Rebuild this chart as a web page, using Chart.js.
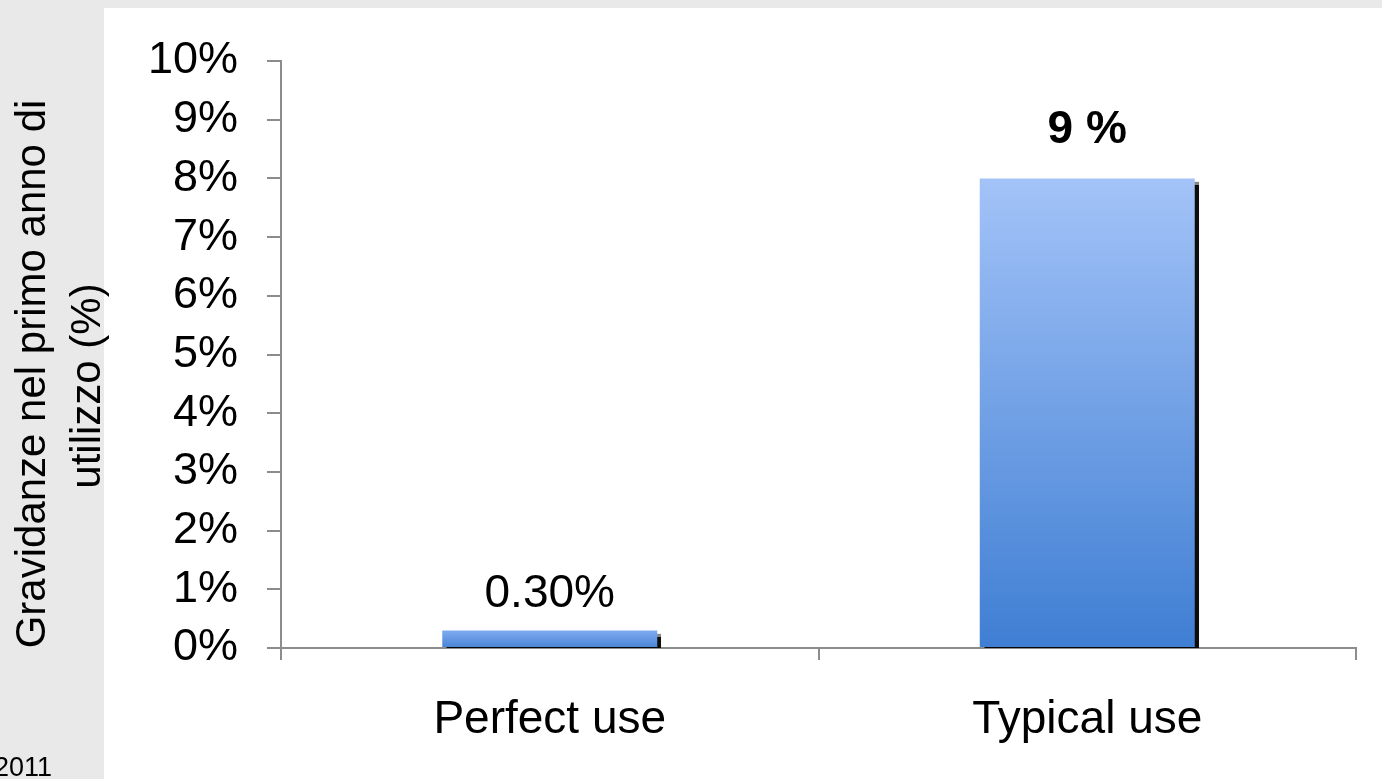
<!DOCTYPE html>
<html>
<head>
<meta charset="utf-8">
<script src="https://cdn.jsdelivr.net/npm/chart.js@4.4.0/dist/chart.umd.min.js"></script>
<style>
  html, body { margin: 0; padding: 0; background: #e9e9e9; overflow: hidden; }
  #wrap { position: relative; width: 1382px; height: 779px; }
  #source { position: absolute; left: -6px; top: 752px; font: 27px "Liberation Sans", Arial, sans-serif; line-height: 30px; color: #000; }
</style>
</head>
<body>
<div id="wrap">
  <canvas id="usageChart" width="1382" height="779"></canvas>
  <div id="source">2011</div>
</div>
<script>
// Pregnancy rate in the first year of use
const categories = ["Perfect use", "Typical use"];
const pregnancyRates = [0.3, 8];
const valueLabels = ["0.30%", "9 %"];
const yTicks = [0, 1, 2, 3, 4, 5, 6, 7, 8, 9, 10];
const yTitle = ["Gravidanze nel primo anno di", "utilizzo (%)"];

const FONT = '"Liberation Sans", Arial, sans-serif';
const AXIS_GREY = "#8c8c8c";

// Vertical gradient per bar, from its top down to the baseline
function barGradient(context) {
  const chart = context.chart;
  const { ctx, chartArea, scales } = chart;
  if (!chartArea || !scales.y) return "#5b8fdd";
  const top = scales.y.getPixelForValue(context.raw);
  const bottom = scales.y.getPixelForValue(0);
  const g = ctx.createLinearGradient(0, top, 0, bottom);
  if (context.raw > 2) {
    g.addColorStop(0, "#a3c3f8");
    g.addColorStop(1, "#3f7ed3");
  } else {
    g.addColorStop(0, "#7fabef");
    g.addColorStop(1, "#4883d6");
  }
  return g;
}

// Grey page with the white slide panel
const panelBackground = {
  id: "panelBackground",
  beforeDraw(chart) {
    const ctx = chart.ctx;
    ctx.save();
    ctx.fillStyle = "#e9e9e9";
    ctx.fillRect(0, 0, chart.width, chart.height);
    ctx.fillStyle = "#ffffff";
    ctx.fillRect(104, 8, chart.width - 104, chart.height - 8);
    ctx.restore();
  }
};

// Dark shadow on the right side of the bars
const barShadow = {
  id: "barShadow",
  beforeDatasetDraw(chart) {
    const ctx = chart.ctx;
    ctx.save();
    ctx.shadowColor = "rgba(0,0,0,0.95)";
    ctx.shadowOffsetX = 4;
    ctx.shadowOffsetY = 4;
    ctx.shadowBlur = 1;
  },
  afterDatasetDraw(chart) {
    chart.ctx.restore();
  }
};

// Rotated two-line y title
const sideTitle = {
  id: "sideTitle",
  afterDraw(chart) {
    const ctx = chart.ctx;
    const centers = [374, 386];
    const xs = [33, 88];
    ctx.save();
    ctx.fillStyle = "#000";
    ctx.font = "42px " + FONT;
    ctx.textAlign = "center";
    ctx.textBaseline = "middle";
    yTitle.forEach((line, i) => {
      ctx.save();
      ctx.translate(xs[i], centers[i]);
      ctx.rotate(-Math.PI / 2);
      ctx.fillText(line, 0, 0);
      ctx.restore();
    });
    ctx.restore();
  }
};

// Value labels above each bar
const barLabels = {
  id: "barLabels",
  afterDatasetsDraw(chart) {
    const ctx = chart.ctx;
    const meta = chart.getDatasetMeta(0);
    const gaps = [23, 35];
    const weights = ["normal", "bold"];
    ctx.save();
    ctx.fillStyle = "#000";
    ctx.textAlign = "center";
    ctx.textBaseline = "alphabetic";
    meta.data.forEach((bar, i) => {
      ctx.font = weights[i] + " 46px " + FONT;
      ctx.fillText(valueLabels[i], bar.x, bar.y - gaps[i]);
    });
    ctx.restore();
  }
};

new Chart(document.getElementById("usageChart"), {
  type: "bar",
  data: {
    labels: categories,
    datasets: [{
      data: pregnancyRates,
      backgroundColor: barGradient,
      borderWidth: 0,
      categoryPercentage: 1,
      barPercentage: 0.4
    }]
  },
  options: {
    responsive: false,
    animation: false,
    events: [],
    layout: { padding: { top: 61, right: 26, bottom: 0, left: 0 } },
    plugins: {
      legend: { display: false },
      tooltip: { enabled: false }
    },
    scales: {
      x: {
        grid: {
          offset: true,
          drawOnChartArea: false,
          drawTicks: true,
          tickLength: 12,
          color: AXIS_GREY,
          lineWidth: 2
        },
        border: { display: true, color: AXIS_GREY, width: 2 },
        ticks: {
          color: "#000",
          padding: 33,
          font: { family: FONT, size: 46 }
        },
        afterFit(scale) { scale.height = 131; }
      },
      y: {
        min: yTicks[0],
        max: yTicks[yTicks.length - 1],
        afterBuildTicks(scale) {
          scale.ticks = yTicks.map(v => ({ value: v }));
        },
        grid: {
          drawOnChartArea: false,
          drawTicks: true,
          tickLength: 14,
          color: AXIS_GREY,
          lineWidth: 2
        },
        border: { display: true, color: AXIS_GREY, width: 2 },
        ticks: {
          color: "#000",
          padding: 29,
          font: { family: FONT, size: 45 },
          callback: v => v + "%"
        },
        afterFit(scale) { scale.width = 281; }
      }
    }
  },
  plugins: [panelBackground, barShadow, sideTitle, barLabels]
});
</script>
</body>
</html>
